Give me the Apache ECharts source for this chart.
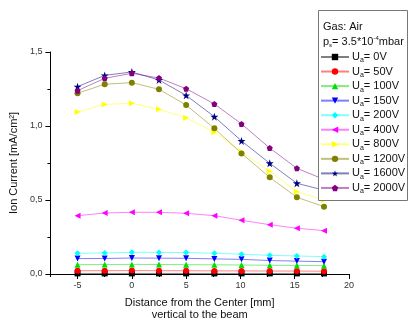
<!DOCTYPE html>
<html>
<head>
<meta charset="utf-8">
<script src="https://cdn.jsdelivr.net/npm/echarts@6/dist/echarts.min.js"></script>
<style>
  html, body { margin: 0; padding: 0; background: #fff; }
  #chart { width: 415px; height: 327px; }
</style>
</head>
<body>
<div id="chart"></div>
<script>
// Beam position (mm) and ion current density (mA/cm²) per acceleration voltage
const positions = [-5, -2.5, 0, 2.5, 5, 7.6, 10.1, 12.7, 15.2, 17.7];
const voltages = ['0V', '50V', '100V', '150V', '200V', '400V', '800V', '1200V', '1600V', '2000V'];

const cur0V    = [0.004, 0.004, 0.004, 0.004, 0.004, 0.004, 0.004, 0.004, 0.004, 0.004];
const cur50V   = [0.022, 0.022, 0.023, 0.022, 0.022, 0.021, 0.021, 0.020, 0.020, 0.019];
const cur100V  = [0.063, 0.064, 0.065, 0.064, 0.063, 0.062, 0.061, 0.059, 0.058, 0.056];
const cur150V  = [0.104, 0.105, 0.108, 0.107, 0.106, 0.102, 0.099, 0.091, 0.087, 0.083];
const cur200V  = [0.140, 0.142, 0.147, 0.146, 0.145, 0.140, 0.134, 0.126, 0.122, 0.117];
const cur400V  = [0.394, 0.412, 0.417, 0.417, 0.410, 0.394, 0.363, 0.333, 0.309, 0.293];
const cur800V  = [1.095, 1.146, 1.153, 1.113, 1.056, 0.957, 0.826, 0.694, 0.556, 0.500];
const cur1200V = [1.221, 1.282, 1.293, 1.248, 1.142, 0.984, 0.815, 0.653, 0.518, 0.455];
const cur1600V = [1.266, 1.342, 1.365, 1.311, 1.207, 1.063, 0.899, 0.748, 0.613, 0.566];
const cur2000V = [1.239, 1.322, 1.356, 1.324, 1.252, 1.149, 1.014, 0.851, 0.714, 0.639];

const xMajorTicks = [-5, 0, 5, 10, 15, 20];
const xMinorTicks = [-7.5, -2.5, 2.5, 7.5, 12.5, 17.5];

const currents = [cur0V, cur50V, cur100V, cur150V, cur200V, cur400V, cur800V, cur1200V, cur1600V, cur2000V];
const colors = ['#000000', '#ff0000', '#00dd00', '#0000ff', '#00ffff', '#ff00ff', '#ffff00', '#808000', '#000080', '#800080'];
const symbols = [
  'rect',
  'circle',
  'triangle',
  'path://M0,0L10,0L5,9Z',
  'diamond',
  'path://M0,5L9,0L9,10Z',
  'path://M0,0L9,5L0,10Z',
  'circle',
  'path://M5,0L6.2,3.6L10,3.6L6.9,5.9L8.1,9.5L5,7.3L1.9,9.5L3.1,5.9L0,3.6L3.8,3.6Z',
  'path://M5,0L10,3.6L8.1,9.5L1.9,9.5L0,3.6Z'
];

const FONT = 'Liberation Sans, Arial, sans-serif';

const series = voltages.map((v, i) => ({
  name: v,
  type: 'line',
  xAxisIndex: 0,
  data: positions.map((x, j) => [x, currents[i][j]]),
  symbol: symbols[i],
  symbolSize: i === 8 ? 8 : 6,
  showAllSymbol: true,
  itemStyle: { color: colors[i] },
  lineStyle: { color: colors[i], width: 1, opacity: 0.5 },
  emphasis: { disabled: true },
  animation: false,
  z: 2
}));

const chart = echarts.init(document.getElementById('chart'), null, { renderer: 'canvas' });
chart.setOption({
  backgroundColor: '#ffffff',
  animation: false,
  textStyle: { fontFamily: FONT },
  grid: { left: 41, right: 66, top: 52, bottom: 53, containLabel: false },
  xAxis: [
    {
      type: 'value', min: -7.5, max: 20,
      name: 'Distance from the Center [mm]\nvertical to the beam',
      nameLocation: 'middle', nameGap: 23,
      nameTextStyle: { fontSize: 11, color: '#111', lineHeight: 12, fontFamily: FONT },
      axisLine: { onZero: false, lineStyle: { color: '#000', width: 1 } },
      axisTick: { show: true, customValues: xMajorTicks, length: 5, lineStyle: { color: '#000' } },
      axisLabel: { customValues: xMajorTicks, fontSize: 9, color: '#333', margin: 7, fontFamily: FONT },
      splitLine: { show: false }
    },
    {
      type: 'value', min: -7.5, max: 20, position: 'bottom',
      axisLine: { show: false, onZero: false },
      axisTick: { show: true, customValues: xMinorTicks, length: 3, lineStyle: { color: '#000' } },
      axisLabel: { show: false },
      splitLine: { show: false }
    }
  ],
  yAxis: {
    type: 'value', min: 0, max: 1.5, interval: 0.5,
    name: 'Ion Current [mA/cm²]',
    nameLocation: 'middle', nameGap: 27, nameRotate: 90,
    nameTextStyle: { fontSize: 11, color: '#111', fontFamily: FONT },
    axisLine: { show: true, onZero: false, lineStyle: { color: '#000', width: 1 } },
    axisTick: { show: true, length: 5, lineStyle: { color: '#000' } },
    minorTick: { show: true, splitNumber: 2, length: 3, lineStyle: { color: '#000' } },
    axisLabel: {
      fontSize: 9, color: '#333', margin: 8, fontFamily: FONT,
      formatter: v => v.toFixed(1).replace('.', ',')
    },
    splitLine: { show: false }
  },
  legend: {
    orient: 'vertical',
    left: 320, top: 50,
    itemWidth: 28, itemHeight: 8, itemGap: 0.55,
    padding: 0,
    data: voltages,
    selectedMode: false,
    formatter: name => '{u|U}{s|a}{t|= ' + name + '}',
    textStyle: {
      fontFamily: FONT, color: '#111', padding: [0, 0, 0, -2],
      rich: {
        u: { fontSize: 11, lineHeight: 14, fontFamily: FONT, color: '#111' },
        s: { fontSize: 7, lineHeight: 14, padding: [7, 0, 0, 0], fontFamily: FONT, color: '#111' },
        t: { fontSize: 11, lineHeight: 14, fontFamily: FONT, color: '#111' }
      }
    },
    z: 6
  },
  graphic: [
    {
      type: 'rect', z: 5,
      shape: { x: 318.5, y: 10.5, width: 89, height: 190 },
      style: { fill: '#ffffff', stroke: '#777', lineWidth: 1 }
    },
    {
      type: 'text', z: 6, left: 323, top: 21,
      style: { text: 'Gas: Air', fontSize: 11, fontFamily: FONT, fill: '#111' }
    },
    {
      type: 'text', z: 6, left: 323, top: 35,
      style: {
        text: '{t|p}{s|s}{t|= 3.5*10}{p|-4}{t|mbar}',
        fontFamily: FONT, fill: '#111',
        rich: {
          t: { fontSize: 11, lineHeight: 14, fontFamily: FONT, fill: '#111' },
          s: { fontSize: 6, lineHeight: 14, padding: [7, 0, 0, 0], fontFamily: FONT, fill: '#111' },
          p: { fontSize: 6, lineHeight: 14, padding: [0, 0, 7, 0], fontFamily: FONT, fill: '#111' }
        }
      }
    }
  ],
  series: series
});
</script>
</body>
</html>
